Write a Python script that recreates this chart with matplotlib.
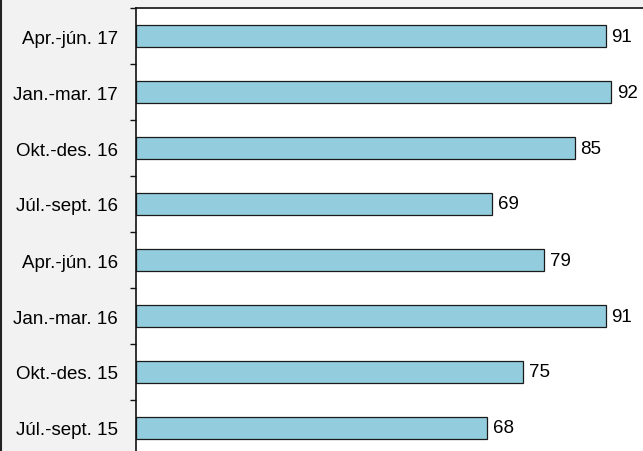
import numpy as np
import matplotlib
matplotlib.use("Agg")
import matplotlib.pyplot as plt
from matplotlib.lines import Line2D

plt.rcParams['font.family'] = ['Liberation Sans', 'DejaVu Sans']

# data, bottom to top
categories = ['Júl.-sept. 15', 'Okt.-des. 15', 'Jan.-mar. 16', 'Apr.-jún. 16',
              'Júl.-sept. 16', 'Okt.-des. 16', 'Jan.-mar. 17', 'Apr.-jún. 17']
values = [68, 75, 91, 79, 69, 85, 92, 91]

fig = plt.figure(figsize=(6.43, 4.52), dpi=100, facecolor='#f2f2f2')
ax = fig.add_axes([136/643, -5/452, 516/643, 448/452])
ax.set_facecolor('white')

y = np.arange(len(categories))
ax.barh(y, values, height=0.4, color='#93cddd', edgecolor='#1a1a1a', linewidth=0.9)

for yi, v in zip(y, values):
    ax.annotate(str(v), (v, yi), xytext=(6, 0), textcoords='offset pixels',
                va='center', ha='left', fontsize=13.5, color='black')

ax.set_xlim(0, 100)
ax.set_ylim(-0.5, len(categories) - 0.5)

# labels centred on bars, tick marks between categories
ax.set_yticks(y)
ax.set_yticklabels(categories, fontsize=13.5, color='black')
ax.tick_params(axis='y', which='major', length=0, pad=13)
ax.set_yticks(np.arange(-0.5, len(categories)), minor=True)
ax.tick_params(axis='y', which='minor', length=4.5, width=1, direction='out', color='#111111')
ax.set_xticks([])

for s in ax.spines.values():
    s.set_linewidth(1.2)
    s.set_color('#111111')

# left border of the chart frame
fig.add_artist(Line2D([0.0015, 0.0015], [0, 1], transform=fig.transFigure,
                      color='#222222', linewidth=1.5))

fig.savefig('out.png', dpi=100, facecolor=fig.get_facecolor())
